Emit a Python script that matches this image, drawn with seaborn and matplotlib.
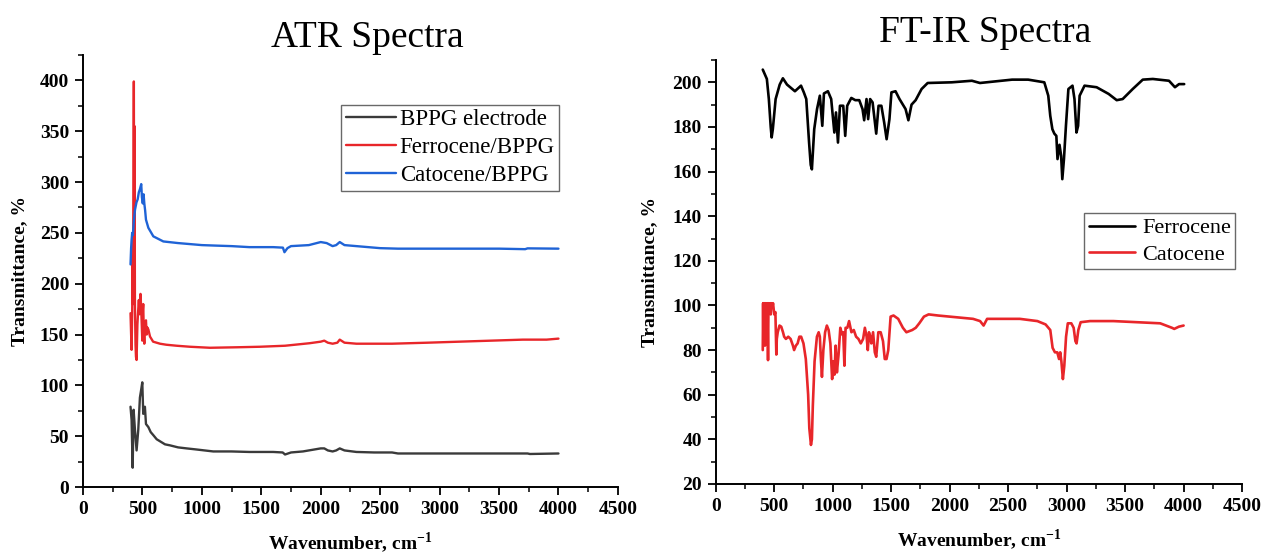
import matplotlib
matplotlib.use("Agg")
import matplotlib.pyplot as plt
import pandas as pd
import seaborn as sns
from matplotlib.ticker import AutoMinorLocator, MultipleLocator

# ATR spectra (left panel)
ATR_BPPG_X = [400, 409, 418, 426, 438, 451, 465, 479, 490, 499, 507, 514, 521, 530, 550,
              570, 592, 620, 648, 690, 732, 800, 872, 950, 1096, 1250, 1400, 1600, 1680, 1700,
              1750, 1850, 1950, 2000, 2030, 2060, 2100, 2130, 2160, 2200, 2300, 2450, 2600,
              2650, 3000, 3500, 3740, 3760, 4000]
ATR_BPPG_Y = [79, 66, 19, 76, 55, 36, 56, 88, 96, 103, 72, 78, 79, 62, 59,
              54, 51, 47, 45, 42, 41, 39, 38, 37, 35, 35, 34.5, 34.5, 34, 32,
              34, 35, 37, 38, 38, 36, 35, 36, 38, 36, 34.5, 34, 34,
              33, 33, 33, 33, 32.5, 33]

ATR_FERRO_X = [400, 405, 409, 414, 418, 421, 425, 428, 431, 434, 437, 442, 446, 451, 458,
               465, 470, 476, 484, 490, 499, 504, 507, 512, 516, 522, 530, 536, 541, 550,
               564, 590, 648, 700, 788, 900, 1068, 1300, 1488, 1700, 1908, 2000, 2030, 2060,
               2100, 2140, 2160, 2200, 2300, 2600, 2900, 3300, 3700, 3900, 4000]
ATR_FERRO_Y = [171, 150, 135, 171, 227, 180, 290, 399, 200, 355, 180, 140, 128, 125, 160,
               175, 184, 170, 190, 175, 144, 175, 180, 150, 141, 160, 164, 150, 157, 155,
               148, 143, 141, 140, 139, 138, 137, 137.5, 138, 139, 141.5, 143, 144, 142,
               141, 142, 145, 142, 141, 141, 142, 143.5, 145, 145, 146]

ATR_CATO_X = [400, 405, 409, 414, 420, 428, 438, 450, 460, 470, 479, 490, 496, 503, 510,
              516, 523, 530, 550, 592, 676, 800, 900, 1000, 1120, 1250, 1400, 1500, 1600,
              1682, 1695, 1720, 1750, 1900, 2000, 2050, 2100, 2130, 2160, 2200, 2300, 2500,
              2650, 3000, 3500, 3720, 3740, 4000]
ATR_CATO_Y = [219, 235, 243, 250, 248, 262, 273, 280, 283, 290, 293, 298, 285, 279, 288,
              279, 272, 263, 255, 246.6, 241.6, 240, 239, 238, 237.5, 237, 236, 236, 236,
              235.5, 231, 235, 237, 238, 241, 240, 237, 238, 241, 238, 237, 235,
              234.5, 234.5, 234.5, 234, 234.8, 234.5]

# FT-IR spectra (right panel)
FTIR_FERRO_X = [402, 437, 454, 470, 478, 488, 512, 547, 574, 609, 677, 729, 753, 774, 798,
                812, 822, 832, 842, 866, 890, 911, 925, 959, 987, 1014, 1028, 1045, 1062, 1090,
                1107, 1124, 1159, 1193, 1227, 1255, 1269, 1289, 1303, 1320, 1341, 1372, 1392,
                1416, 1440, 1461, 1485, 1502, 1537, 1571, 1623, 1647, 1674, 1709, 1760, 1812,
                2018, 2190, 2259, 2534, 2671, 2809, 2843, 2860, 2878, 2895, 2912, 2922, 2939,
                2953, 2963, 2977, 2994, 3015, 3050, 3067, 3084, 3098, 3111, 3153, 3256, 3359,
                3428, 3479, 3565, 3651, 3737, 3875, 3926, 3961, 4005]
FTIR_FERRO_Y = [205.7, 201.5, 192.5, 180, 175.3, 179, 192.5, 199, 201.8, 199, 196, 198.5, 195.5, 192.5, 173,
                163, 161, 170, 179, 188, 194, 180.5, 195, 196, 192.5, 177.5, 186.5, 173, 189.5, 189.5,
                176, 189.5, 193, 192, 192, 188, 183, 192.5, 183.5, 192.5, 191, 177, 189.5,
                189.5, 182, 174.5, 183.5, 195.5, 196, 192.5, 188, 183, 190, 192, 197, 199.7,
                200, 200.7, 199.7, 201.2, 201.2, 200, 194, 185, 179, 177, 176, 165.6, 172,
                167, 156.6, 165.6, 180.5, 197, 198.5, 192.5, 177.5, 180.5, 194, 198.5, 197.8, 194.8,
                192, 192.5, 197, 201.2, 201.5, 200.7, 197.8, 199.2, 199.2]

FTIR_CATO_X = [402, 405, 407, 410, 412, 415, 418, 421, 425, 428, 430, 435, 440, 444, 447,
               450, 452, 458, 465, 470, 475, 482, 490, 500, 510, 518, 522, 530, 545, 560,
               575, 585, 600, 620, 640, 660, 670, 685, 700, 715, 730, 750, 770, 790, 800,
               814, 822, 830, 845, 865, 880, 890, 900, 908, 920, 935, 950, 965, 980, 995,
               1005, 1015, 1025, 1036, 1050, 1065, 1080, 1090, 1100, 1110, 1125, 1140, 1160, 1180,
               1200, 1220, 1240, 1260, 1275, 1290, 1300, 1310, 1320, 1330, 1345, 1360, 1372, 1390,
               1410, 1430, 1445, 1460, 1475, 1495, 1520, 1560, 1600, 1630, 1680, 1710, 1740, 1780,
               1820, 1900, 2000, 2100, 2200, 2260, 2290, 2320, 2400, 2600, 2750, 2820, 2860, 2880,
               2900, 2920, 2935, 2945, 2955, 2968, 2980, 2995, 3010, 3040, 3060, 3075, 3085, 3100,
               3120, 3200, 3400, 3600, 3800, 3900, 3920, 3960, 4000]
FTIR_CATO_Y = [80, 101, 88, 101, 85, 100, 101, 82, 101, 95, 101, 92, 101, 90, 75.5,
               95, 101, 99, 101, 96, 101, 99, 101, 96, 97, 78, 85, 88, 91, 90.5,
               88, 86, 85, 86, 85, 82, 80, 82, 83, 86, 86, 83, 76, 60, 45,
               37.5, 40, 55, 75, 86, 88, 86, 75, 68, 80, 88, 91, 89, 83, 67,
               75, 69, 82, 70, 78, 90, 87, 88, 73, 90, 90, 93, 88, 89,
               86, 85, 83, 85, 90, 86, 80, 88, 86, 83, 88, 79, 77, 88,
               88, 84, 76, 76, 80, 95, 95.5, 94, 90, 88, 89, 90, 92, 95,
               96, 95.5, 95, 94.5, 94, 93, 91, 94, 94, 94, 93, 91.5, 89, 81,
               79, 79, 76, 79, 75, 67, 73, 86, 92, 92, 90, 84, 83, 89,
               92.5, 93, 93, 92.5, 92, 90, 89.5, 90.5, 91]

ATR_LABELS = ["BPPG electrode", "Ferrocene/BPPG", "Catocene/BPPG"]
FTIR_LABELS = ["Ferrocene", "Catocene"]


def make_frame(series):
    rows = []
    for label, xs, ys in series:
        rows.append(pd.DataFrame({"Wavenumber": xs, "Transmittance": ys, "Sample": label}))
    return pd.concat(rows, ignore_index=True)


def style_axes(ax, ymin, ymax, ymajor):
    ax.set_xlim(0, 4500)
    ax.set_ylim(ymin, ymax)
    ax.xaxis.set_major_locator(MultipleLocator(500))
    ax.yaxis.set_major_locator(MultipleLocator(ymajor))
    ax.xaxis.set_minor_locator(AutoMinorLocator(2))
    ax.yaxis.set_minor_locator(AutoMinorLocator(2))
    ax.tick_params(which="major", direction="out", length=6, width=1.3, labelsize=14, pad=4)
    ax.tick_params(which="minor", direction="out", length=3.5, width=1.1)
    for lab in ax.get_xticklabels() + ax.get_yticklabels():
        lab.set_fontweight("bold")
    for side in ("top", "right"):
        ax.spines[side].set_visible(False)
    for side in ("left", "bottom"):
        ax.spines[side].set_linewidth(1.4)
        ax.spines[side].set_color("black")
    ax.set_xlabel("Wavenumber, cm$^{\\mathbf{-1}}$", fontsize=14, fontweight="bold", labelpad=9)
    ax.set_ylabel("Transmittance, %", fontsize=14, fontweight="bold")


sns.set_theme(style="ticks")
plt.rcParams["font.family"] = ["Liberation Serif", "DejaVu Serif"]
plt.rcParams["mathtext.fontset"] = "custom"
plt.rcParams["mathtext.rm"] = "Liberation Serif"
plt.rcParams["mathtext.bf"] = "Liberation Serif:bold"
for key in ("text.color", "axes.labelcolor", "xtick.color", "ytick.color", "axes.edgecolor"):
    plt.rcParams[key] = "black"

fig = plt.figure(figsize=(12.61, 5.53), dpi=100)
ax1 = fig.add_axes([0.0658, 0.1193, 0.4242, 0.7812])
ax2 = fig.add_axes([0.5676, 0.1248, 0.4174, 0.7667])

atr_df = make_frame([
    (ATR_LABELS[0], ATR_BPPG_X, ATR_BPPG_Y),
    (ATR_LABELS[1], ATR_FERRO_X, ATR_FERRO_Y),
    (ATR_LABELS[2], ATR_CATO_X, ATR_CATO_Y),
])
sns.lineplot(
    data=atr_df, x="Wavenumber", y="Transmittance", hue="Sample",
    palette=["#3a3a3a", "#e8262a", "#1f63d6"], sort=False, estimator=None,
    linewidth=1.7, ax=ax1,
)
style_axes(ax1, 0, 425, 50)
ax1.yaxis.labelpad = 8
leg1 = ax1.legend(
    loc="upper left", bbox_to_anchor=(0.483, 0.885), fontsize=16.5, frameon=True,
    fancybox=False, edgecolor="#444444", handlelength=2.2, handletextpad=0.15,
    borderpad=0.2, labelspacing=0.3, borderaxespad=0,
)
leg1.get_frame().set_linewidth(1.0)

ftir_df = make_frame([
    (FTIR_LABELS[0], FTIR_FERRO_X, FTIR_FERRO_Y),
    (FTIR_LABELS[1], FTIR_CATO_X, FTIR_CATO_Y),
])
sns.lineplot(
    data=ftir_df, x="Wavenumber", y="Transmittance", hue="Sample",
    palette=["#000000", "#e8262a"], sort=False, estimator=None,
    linewidth=1.9, ax=ax2,
)
style_axes(ax2, 20, 210, 20)
ax2.yaxis.labelpad = 10
leg2 = ax2.legend(
    loc="upper left", bbox_to_anchor=(0.7, 0.638), fontsize=16, frameon=True,
    fancybox=False, edgecolor="#444444", handlelength=2.1, handletextpad=0.3,
    borderpad=0.2, labelspacing=0.25, borderaxespad=0,
)
leg2.get_frame().set_linewidth(1.0)

fig.text(367 / 1261, 1 - 38 / 553, "ATR Spectra", ha="center", va="center", fontsize=27)
fig.text(985 / 1261, 1 - 33 / 553, "FT-IR Spectra", ha="center", va="center", fontsize=27)

fig.savefig("out.png", dpi=100)
